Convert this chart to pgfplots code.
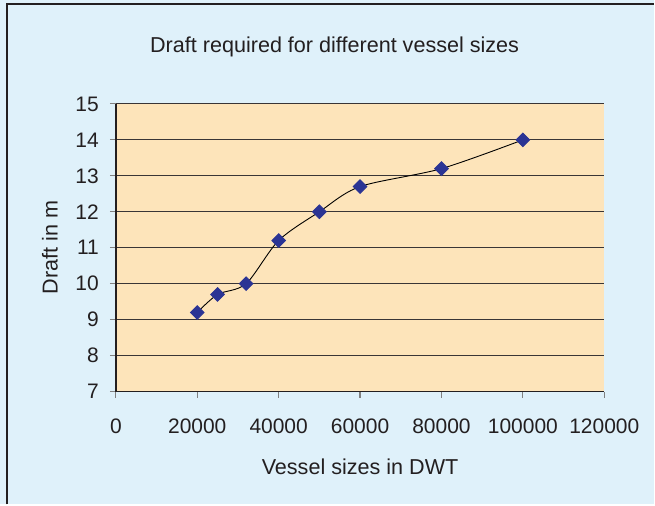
\documentclass[border=0pt]{standalone}
\usepackage{pgfplots}
\pgfplotsset{compat=1.18}
\usepackage{fontspec}
\setmainfont{Liberation Sans}
\definecolor{OuterBg}{HTML}{DFF1FA}
\definecolor{PlotBg}{HTML}{FDE4BA}
\definecolor{MarkBlue}{HTML}{2B3494}
\definecolor{TextDark}{HTML}{231F20}
\begin{document}
\begin{tikzpicture}
  % whole frame: 655x505 px at 0.5pt per px
  \fill[OuterBg] (0,0) rectangle (327.5pt,252.5pt);
  \draw[TextDark,line width=0.8pt] (3.5pt,0) -- (3.5pt,250.5pt) -- (327.5pt,250.5pt);
  \node[TextDark,font=\fontsize{10.8}{12}\selectfont] at (167.5pt,229pt) {Draft required for different vessel sizes};
  \begin{axis}[
    at={(58pt,56.5pt)},anchor=south west,
    scale only axis,width=244.5pt,height=144pt,
    xmin=0,xmax=120000,ymin=7,ymax=15,
    xtick={0,20000,...,120000},ytick={7,8,...,15},
    scaled x ticks=false,
    xticklabel style={/pgf/number format/fixed,/pgf/number format/1000 sep={}},
    /pgf/number format/assume math mode=true,
    tick label style={font=\fontsize{10.5}{12}\selectfont,text=TextDark},
    xticklabel style={yshift=-7pt},
    yticklabel style={xshift=-2pt},
    ymajorgrids,grid style={TextDark!90,line width=0.55pt},
    axis background/.style={fill=PlotBg},
    axis x line*=bottom,axis y line*=left,
    axis line style={TextDark,line width=0.9pt,-},
    tick align=outside,major tick length=3pt,
    tick style={gray,line width=0.6pt},
    xlabel={Vessel sizes in DWT},ylabel={Draft in m},
    label style={font=\fontsize{10.8}{12}\selectfont,text=TextDark},
    xlabel style={yshift=-6pt},
    ylabel style={yshift=2pt},
  ]
    \addplot[black,line width=0.45pt,smooth,mark=square*,
      mark size=2.4pt,mark options={rotate=45,fill=MarkBlue,draw=MarkBlue}]
      coordinates {(20000,9.2) (25000,9.7) (32000,10.0) (40000,11.2)
        (50000,12.0) (60000,12.7) (80000,13.2) (100000,14.0)};
  \end{axis}
\end{tikzpicture}
\end{document}
